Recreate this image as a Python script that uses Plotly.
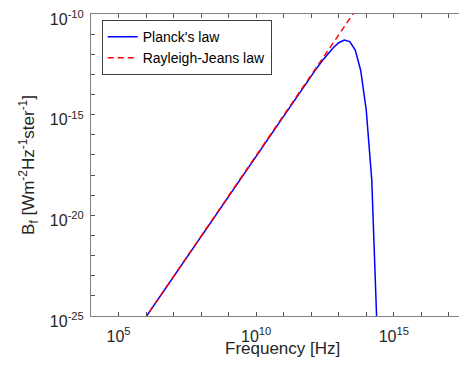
import plotly.graph_objects as go

# Data (log10 values)
planck_logf = [5.5, 6.0, 7.0, 8.0, 9.0, 10.0, 11.0, 11.5, 12.0, 12.2, 12.4, 12.6, 12.8,
               13.0, 13.2, 13.4, 13.6, 13.8, 14.0, 14.2, 14.4, 14.6]
planck_logB = [-26.035, -25.035, -23.035, -21.035, -19.035, -17.035, -15.038, -14.046,
               -13.070, -12.691, -12.325, -11.981, -11.672, -11.428, -11.297, -11.369,
               -11.797, -12.816, -14.780, -18.245, -24.086, -33.700]
rj_logf = [5.5, 6.0, 8.0, 10.0, 12.0, 13.0, 13.6]
rj_logB = [-26.035, -25.035, -21.035, -17.035, -13.035, -11.035, -9.835]

x_tick_exp = list(range(4, 18))
x_label_exp = [5, 10, 15]
y_tick_exp = list(range(-25, -9))
y_label_exp = [-25, -20, -15, -10]

planck_f = [10 ** v for v in planck_logf]
planck_B = [10 ** v for v in planck_logB]
rj_f = [10 ** v for v in rj_logf]
rj_B = [10 ** v for v in rj_logB]

FONT = "Liberation Sans, Arial, sans-serif"
TXT = "#262626"

fig = go.Figure()
fig.add_trace(go.Scatter(x=planck_f, y=planck_B, mode="lines", name="Planck's law",
                         line=dict(color="#0000ff", width=1.5)))
fig.add_trace(go.Scatter(x=rj_f, y=rj_B, mode="lines", name="Rayleigh-Jeans law",
                         line=dict(color="#ff0000", width=1.5, dash="6px,4px")))

x_major = [10 ** e for e in x_label_exp]
x_text = [f"10<sup>{e}</sup>" for e in x_label_exp]
x_minor = [10 ** e for e in x_tick_exp if e not in x_label_exp]
y_major = [10 ** e for e in y_label_exp]
y_text = [f"10<sup>{e}</sup>" for e in y_label_exp]
y_minor = [10 ** e for e in y_tick_exp if e not in y_label_exp]

TICKC = "#555555"

# page body has an 8px default margin; figure is sized so the page does not overflow
fig.update_layout(
    width=459, height=356,
    margin=dict(l=83, r=0, t=6, b=48),
    paper_bgcolor="white", plot_bgcolor="white",
    font=dict(family=FONT, color=TXT, size=16),
    showlegend=True,
    legend=dict(x=0.0285, y=0.980, xanchor="left", yanchor="top",
                bgcolor="white", bordercolor="#404040", borderwidth=1,
                font=dict(family=FONT, size=14, color="#000000")),
    xaxis=dict(type="log", range=[4.0, 17.66], showgrid=False, zeroline=False,
               automargin=False,
               showline=True, linecolor="#808080", linewidth=1, mirror="ticks",
               ticks="inside", ticklen=4, tickcolor=TICKC,
               tickmode="array", tickvals=x_major, ticktext=x_text, ticklabelstandoff=6,
               minor=dict(tickmode="array", tickvals=x_minor, ticks="inside",
                          ticklen=4, tickcolor=TICKC, showgrid=False),
               tickfont=dict(size=16, color=TXT)),
    yaxis=dict(type="log", range=[-25, -10], showgrid=False, zeroline=False,
               automargin=False,
               showline=True, linecolor="#808080", linewidth=1, mirror=False,
               ticks="inside", ticklen=4, tickcolor=TICKC,
               tickmode="array", tickvals=y_major, ticktext=y_text,
               ticklabelstandoff=3, ticklabelshift=5, ticklabeloverflow="allow",
               minor=dict(tickmode="array", tickvals=y_minor, ticks="inside",
                          ticklen=4, tickcolor=TICKC, showgrid=False),
               tickfont=dict(size=16, color=TXT),
               title=dict(text="B<sub>f</sub> [Wm<sup>-2</sup>Hz<sup>-1</sup>ster<sup>-1</sup>]",
                          font=dict(size=17, color=TXT), standoff=10)),
    annotations=[dict(text="Frequency [Hz]", xref="paper", yref="paper",
                      x=0.5106, y=-0.1060, xanchor="center", yanchor="middle",
                      showarrow=False, font=dict(family=FONT, size=17, color=TXT))],
)

fig.write_html("out.html")
